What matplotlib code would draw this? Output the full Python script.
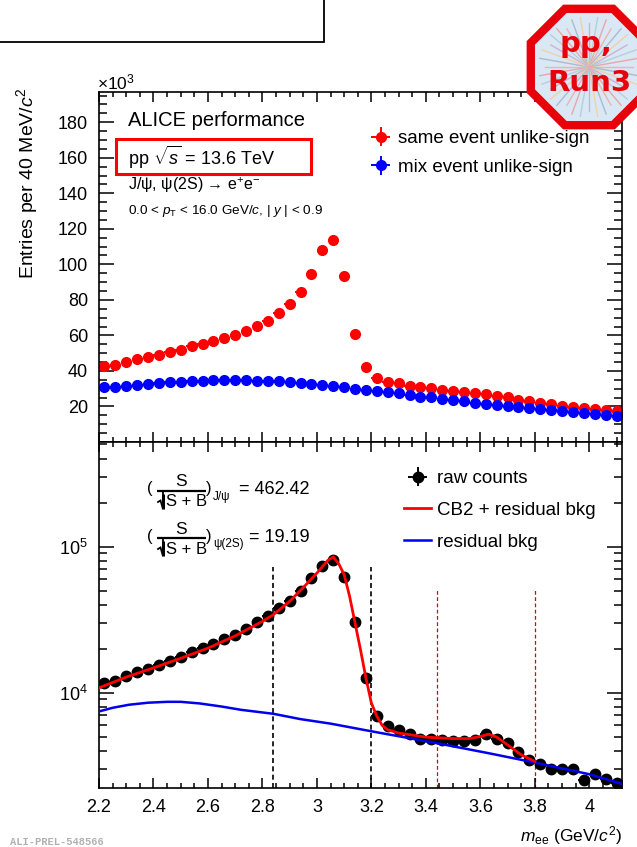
import numpy as np
import matplotlib
matplotlib.use("Agg")
import matplotlib.pyplot as plt
from matplotlib.ticker import MultipleLocator, LogLocator, NullFormatter
from matplotlib.patches import Rectangle, RegularPolygon

plt.rcParams['font.family'] = ['Liberation Sans', 'DejaVu Sans']
plt.rcParams['mathtext.fontset'] = 'custom'
plt.rcParams['mathtext.rm'] = 'Liberation Sans'
plt.rcParams['mathtext.it'] = 'Liberation Sans:italic'
plt.rcParams['mathtext.bf'] = 'Liberation Sans:bold'

# bin centres (GeV/c^2), 40 MeV bins
mass = [2.22, 2.26, 2.30, 2.34, 2.38, 2.42, 2.46, 2.50, 2.54, 2.58, 2.62, 2.66,
        2.70, 2.74, 2.78, 2.82, 2.86, 2.90, 2.94, 2.98, 3.02, 3.06, 3.10, 3.14,
        3.18, 3.22, 3.26, 3.30, 3.34, 3.38, 3.42, 3.46, 3.50, 3.54, 3.58, 3.62,
        3.66, 3.70, 3.74, 3.78, 3.82, 3.86, 3.90, 3.94, 3.98, 4.02, 4.06, 4.10]

# top panel, x10^3 entries
same_event = [42.6, 43.5, 45.0, 46.5, 47.7, 48.8, 50.5, 52.0, 53.9, 55.0, 57.1, 58.6,
              60.3, 62.6, 65.4, 68.2, 72.5, 77.6, 84.4, 94.8, 107.8, 113.8, 93.3, 61.0,
              42.4, 36.2, 33.9, 33.0, 31.8, 30.9, 30.2, 29.4, 28.6, 27.9, 27.3, 26.8,
              26.0, 25.1, 23.9, 22.8, 22.0, 21.3, 20.5, 19.8, 19.0, 18.5, 17.9, 17.4]
mix_event = [30.7, 31.1, 31.7, 32.2, 32.8, 33.4, 33.5, 33.9, 34.1, 34.5, 34.7, 34.7,
             34.9, 34.7, 34.5, 34.3, 34.1, 33.5, 33.2, 32.6, 32.2, 31.6, 30.8, 30.1,
             29.4, 28.5, 27.9, 27.3, 26.6, 25.6, 25.1, 24.3, 23.6, 22.8, 22.2, 21.5,
             20.9, 20.4, 19.8, 19.2, 18.7, 18.1, 17.5, 17.0, 16.4, 15.8, 15.3, 14.7]

# bottom panel
raw_counts = [11650, 12100, 13100, 13900, 14600, 15400, 16600, 17600, 19100, 20100, 21700, 23300,
              25000, 27300, 30300, 33500, 38000, 42700, 50000, 61000, 74100, 81500, 61500, 30300,
              12600, 6900, 5900, 5550, 5210, 4840, 4840, 4770, 4690, 4690, 4770, 5240,
              4840, 4520, 3960, 3470, 3260, 3030, 3010, 3030, 2510, 2770, 2590, 2410]

fit_x = [2.20, 2.30, 2.40, 2.50, 2.60, 2.70, 2.80, 2.84, 2.90, 2.96, 3.00, 3.04, 3.06,
         3.08, 3.10, 3.12, 3.14, 3.16, 3.18, 3.20, 3.22, 3.24, 3.26, 3.30, 3.40, 3.50,
         3.56, 3.60, 3.63, 3.66, 3.70, 3.75, 3.80]
fit_y = [10800, 12800, 14800, 17200, 20200, 24500, 30800, 34200, 42200, 54900, 66000, 80500, 85000,
         76500, 64300, 45700, 30000, 19700, 12600, 8500, 6900, 5970, 5580, 5300, 4970, 4860,
         4860, 5020, 5210, 4970, 4400, 3760, 3390]

bkg_x = [2.20, 2.25, 2.31, 2.38, 2.45, 2.50, 2.57, 2.65, 2.72, 2.84, 2.94, 3.05,
         3.20, 3.44, 3.63, 3.80, 4.00, 4.12]
bkg_y = [7450, 7890, 8280, 8550, 8670, 8670, 8450, 8050, 7650, 7180, 6600, 6150,
         5450, 4520, 3860, 3330, 2770, 2380]

jpsi_window = [2.84, 3.20]
psi2s_window = [3.44, 3.80]

signif_labels = ['J/ψ', 'ψ(2S)']
signif_values = ['462.42', '19.19']

W, H = 637, 847
fig = plt.figure(figsize=(W / 100, H / 100), dpi=100)

def px_axes(x0, y0, x1, y1):
    return fig.add_axes([x0 / W, 1 - y1 / H, (x1 - x0) / W, (y1 - y0) / H])

ax1 = px_axes(99, 92, 622, 442)
ax2 = px_axes(99, 442, 622, 788)

def style(ax, ylen):
    for s in ax.spines.values():
        s.set_linewidth(1.2)
    ax.tick_params(which='both', direction='in', top=True, right=True, width=1.1,
                   labelsize=13, pad=8)
    ax.tick_params(axis='y', which='major', length=ylen)
    ax.tick_params(axis='y', which='minor', length=ylen / 2)
    ax.tick_params(axis='x', which='major', length=7)
    ax.tick_params(axis='x', which='minor', length=3.5)
    ax.set_xlim(2.2, 4.12)
    ax.xaxis.set_major_locator(MultipleLocator(0.2))
    ax.xaxis.set_minor_locator(MultipleLocator(0.05))

# top panel
zeros = np.zeros(len(mass))
ax1.errorbar(mass, same_event, xerr=0.02, yerr=zeros, fmt='o', color='#ff0000', ms=7,
             elinewidth=1.4, capsize=0, label='same event unlike-sign')
ax1.errorbar(mass, mix_event, xerr=0.02, yerr=zeros, fmt='o', color='#0000ff', ms=7,
             elinewidth=1.4, capsize=0, label='mix event unlike-sign')
style(ax1, 11)
ax1.set_ylim(0, 197)
ax1.set_yticks(range(20, 181, 20))
ax1.yaxis.set_minor_locator(MultipleLocator(5))
ax1.tick_params(axis='x', labelbottom=False)
ax1.set_ylabel('Entries per 40 MeV/$c^{2}$', fontsize=14)
ax1.yaxis.set_label_coords(-0.112, 0.74)
ax1.legend(loc='upper left', bbox_to_anchor=(367 / W, 1 - 130 / H), bbox_transform=fig.transFigure,
           frameon=False, fontsize=13.5, handlelength=1.45, handletextpad=0.2,
           labelspacing=0.62, borderpad=0, borderaxespad=0)

# bottom panel
ax2.set_yscale('log')
h_raw = ax2.errorbar(mass, raw_counts, xerr=0.02, yerr=zeros, fmt='o', color='black', ms=7.5,
                     elinewidth=1.4, capsize=0, label='raw counts', zorder=2)
h_fit, = ax2.plot(fit_x, fit_y, color='#ff0000', lw=2, label='CB2 + residual bkg', zorder=4)
h_bkg, = ax2.plot(bkg_x, bkg_y, color='#0000ee', lw=1.8, label='residual bkg', zorder=3)
ymin = 2230
ax2.vlines(jpsi_window, ymin, 7.3e4, colors='black', linestyles=(0, (3, 2)), lw=1.2, zorder=1)
ax2.vlines(psi2s_window, ymin, 5.1e4, colors='#dd0000', linestyles=(0, (3, 2)), lw=0.9, zorder=1)
style(ax2, 11)
ax2.set_ylim(ymin, 5.2e5)
ax2.yaxis.set_major_locator(LogLocator(base=10, numticks=10))
ax2.yaxis.set_minor_locator(LogLocator(base=10, subs=np.arange(2, 10), numticks=20))
ax2.yaxis.set_minor_formatter(NullFormatter())
ax2.set_xticks([2.2, 2.4, 2.6, 2.8, 3.0, 3.2, 3.4, 3.6, 3.8, 4.0])
ax2.set_xticklabels(['2.2', '2.4', '2.6', '2.8', '3', '3.2', '3.4', '3.6', '3.8', '4'])
ax2.set_xlabel(r'$m_{\mathrm{ee}}$ (GeV/$c^{2}$)', fontsize=12.5, loc='right', labelpad=6)
ax2.legend([h_raw, h_fit, h_bkg], ['raw counts', 'CB2 + residual bkg', 'residual bkg'],
           loc='upper left', bbox_to_anchor=(404 / W, 1 - 470 / H), bbox_transform=fig.transFigure,
           frameon=False, fontsize=13.5, handlelength=1.45, handletextpad=0.3,
           labelspacing=0.78, borderpad=0, borderaxespad=0)

# overlay in pixel coordinates for annotations
ov = fig.add_axes([0, 0, 1, 1])
ov.set_xlim(0, W)
ov.set_ylim(H, 0)
ov.axis('off')

ov.add_patch(Rectangle((-5, -5), 329, 47, fill=False, edgecolor='black', lw=1.3))
ov.text(97, 89, r'$\times 10^{3}$', fontsize=12.5, ha='left', va='baseline')
ov.text(128, 120, 'ALICE performance', fontsize=14.5, va='center')
ov.text(128, 157, r'pp $\sqrt{s}$ = 13.6 TeV', fontsize=13, va='center')
ov.add_patch(Rectangle((116, 139), 195, 35, fill=False, edgecolor='#ff0000', lw=2.2))
ov.text(128, 185, r'J/ψ, ψ(2S) → e$^{+}$e$^{-}$', fontsize=11.5, va='center')
ov.text(128, 211, r'0.0 < $p_{\mathrm{T}}$ < 16.0 GeV/$c$, | $y$ | < 0.9', fontsize=9.7, va='center')

# S/sqrt(S+B) annotations, composed piece by piece
for row, (lab, val) in enumerate(zip(signif_labels, signif_values)):
    yc = 490 + 47 * row
    ov.text(147, yc - 1, '(', fontsize=12, va='center')
    ov.text(181, yc - 8, 'S', fontsize=12.5, ha='center', va='center')
    ov.plot([157, 206], [yc + 1, yc + 1], color='black', lw=1.6, solid_capstyle='butt')
    ov.plot([158, 160.5, 163, 163], [yc + 12, yc + 10.5, yc + 19, yc + 1],
            color='black', lw=1.3, solid_joinstyle='miter')
    ov.plot([163, 163], [yc + 4, yc + 19], color='black', lw=2.2, solid_capstyle='butt')
    ov.text(166, yc + 12, 'S + B', fontsize=12, va='center')
    ov.text(206, yc - 1, ')', fontsize=12, va='center')
    ov.text(213, yc + 7, lab, fontsize=8.5, va='center')
    ov.text(214 + (25 if row == 0 else 35), yc, '= ' + val, fontsize=13, va='center')

ov.text(10, 842, 'ALI-PREL-548566', fontsize=7.5, family='Liberation Mono', weight='bold',
        color='#b0b0b0', va='center')

# logo
cx, cy = 589, 67
ov.add_patch(RegularPolygon((cx, cy), numVertices=8, radius=63, orientation=np.pi / 8,
                            facecolor='#d9e8f4', edgecolor='#e8000b', lw=6, zorder=5))
ray_colors = ['#eab4b4', '#a9bccf', '#f2d0a8', '#cdb3cd', '#b5cfdc', '#e6a8a8']
for i, a in enumerate(np.linspace(0, 2 * np.pi, 36, endpoint=False)):
    r = 50 if i % 3 else 44
    ov.plot([cx, cx + r * np.cos(a)], [cy, cy + r * np.sin(a)],
            color=ray_colors[i % len(ray_colors)], lw=1.0, zorder=6)
ov.text(586, 44, 'pp,', fontsize=21, family='DejaVu Sans', weight='bold',
        color='#e8000b', ha='center', va='center', zorder=7)
ov.text(590, 83, 'Run3', fontsize=21, family='DejaVu Sans', weight='bold',
        color='#e8000b', ha='center', va='center', zorder=7)

fig.savefig('out.png', dpi=100)
